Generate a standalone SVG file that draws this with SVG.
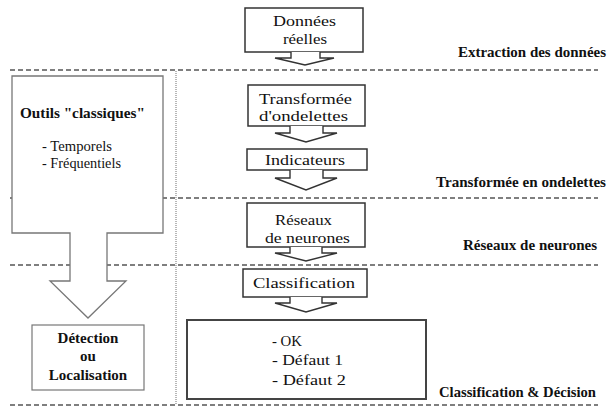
<svg xmlns="http://www.w3.org/2000/svg" width="608" height="409" viewBox="0 0 608 409">
<style>
.sep{stroke:#555;stroke-width:1.6;stroke-dasharray:5 3;fill:none}
.dot{stroke:#888;stroke-width:1.2;stroke-dasharray:1 1;fill:none}
.box{fill:#fff;stroke:#333;stroke-width:1.5}
.arr{fill:#fff;stroke:#333;stroke-width:1.4;stroke-linejoin:miter}
.big{fill:#fff;stroke:#777;stroke-width:1.3}
text{font-family:'Liberation Serif','Times New Roman','DejaVu Serif',serif;fill:#111}
.t{font-size:15px}
.b{font-size:15px;font-weight:bold}
.lb{font-size:15px;font-weight:bold}
.lt{font-size:15px}
</style>
<g id="separators">
<line class="sep" x1="10" y1="70" x2="598" y2="70"/>
<line class="sep" x1="10" y1="198" x2="598" y2="198"/>
<line class="sep" x1="10" y1="265" x2="598" y2="265"/>
<line class="sep" x1="10" y1="405" x2="598" y2="405"/>
<line class="dot" x1="176" y1="71" x2="176" y2="404"/>
</g>
<g id="stage-labels">
<text class="b" x="458" y="57" textLength="148" lengthAdjust="spacingAndGlyphs">Extraction des données</text>
<text class="b" x="436" y="187" textLength="170" lengthAdjust="spacingAndGlyphs">Transformée en ondelettes</text>
<text class="b" x="463" y="250" textLength="134" lengthAdjust="spacingAndGlyphs">Réseaux de neurones</text>
<text class="b" x="439" y="397" textLength="157" lengthAdjust="spacingAndGlyphs">Classification &amp; Décision</text>
</g>
<g id="outils">
<path class="big" d="M12,76 H163 V233 H107 V281 H126 L88,318 L50,281 H70 V233 H12 Z"/>
<text class="lb" x="20" y="118" textLength="125" lengthAdjust="spacingAndGlyphs">Outils "classiques"</text>
<text class="lt" x="42" y="151" textLength="70" lengthAdjust="spacingAndGlyphs">- Temporels</text>
<text class="lt" x="42" y="168" textLength="79" lengthAdjust="spacingAndGlyphs">- Fréquentiels</text>
</g>
<g id="detection">
<rect x="32" y="325" width="112" height="65" fill="#fff" stroke="#777" stroke-width="1.2"/>
<text class="b" x="88" y="343" text-anchor="middle">Détection</text>
<text class="b" x="88" y="361" text-anchor="middle">ou</text>
<text class="b" x="88" y="380" text-anchor="middle">Localisation</text>
</g>
<g id="donnees">
<rect class="box" x="245" y="8" width="118" height="44"/>
<text class="t" x="273" y="26" textLength="63" lengthAdjust="spacingAndGlyphs">Données</text>
<text class="t" x="283" y="44" textLength="44" lengthAdjust="spacingAndGlyphs">réelles</text>
</g>
<g id="transformee">
<rect class="box" x="248" y="85" width="117" height="41"/>
<text class="t" x="259" y="104" textLength="93" lengthAdjust="spacingAndGlyphs">Transformée</text>
<text class="t" x="259" y="121" textLength="89" lengthAdjust="spacingAndGlyphs">d'ondelettes</text>
</g>
<g id="indicateurs">
<rect class="box" x="247" y="149" width="120" height="21"/>
<text class="t" x="265" y="165" textLength="80" lengthAdjust="spacingAndGlyphs">Indicateurs</text>
</g>
<g id="reseaux">
<rect class="box" x="247" y="203" width="118" height="44"/>
<text class="t" x="275" y="225" textLength="57" lengthAdjust="spacingAndGlyphs">Réseaux</text>
<text class="t" x="265" y="243" textLength="85" lengthAdjust="spacingAndGlyphs">de neurones</text>
</g>
<g id="classification">
<rect class="box" x="243" y="269" width="124" height="28"/>
<text class="t" x="253" y="288" textLength="102" lengthAdjust="spacingAndGlyphs">Classification</text>
</g>
<g id="decision">
<rect x="187" y="320" width="239" height="79" fill="#fff" stroke="#444" stroke-width="2"/>
<text class="t" x="272" y="346" textLength="30" lengthAdjust="spacingAndGlyphs">- OK</text>
<text class="t" x="272" y="365" textLength="71" lengthAdjust="spacingAndGlyphs">- Défaut 1</text>
<text class="t" x="272" y="385" textLength="74" lengthAdjust="spacingAndGlyphs">- Défaut 2</text>
</g>
<g id="connectors">
<path class="arr" d="M291,52 V58 H275 L305,65 L334,58 H320 V52"/>
<path class="arr" d="M290,126 V133 H275 L306,142 L337,133 H323 V126"/>
<path class="arr" d="M290,170 V178 H275 L306,190 L337,178 H323 V170"/>
<path class="arr" d="M290,247 V253 H275 L306,261 L337,253 H322 V247"/>
<path class="arr" d="M290,297 V303 H275 L306,312 L337,303 H322 V297"/>
</g>
</svg>
